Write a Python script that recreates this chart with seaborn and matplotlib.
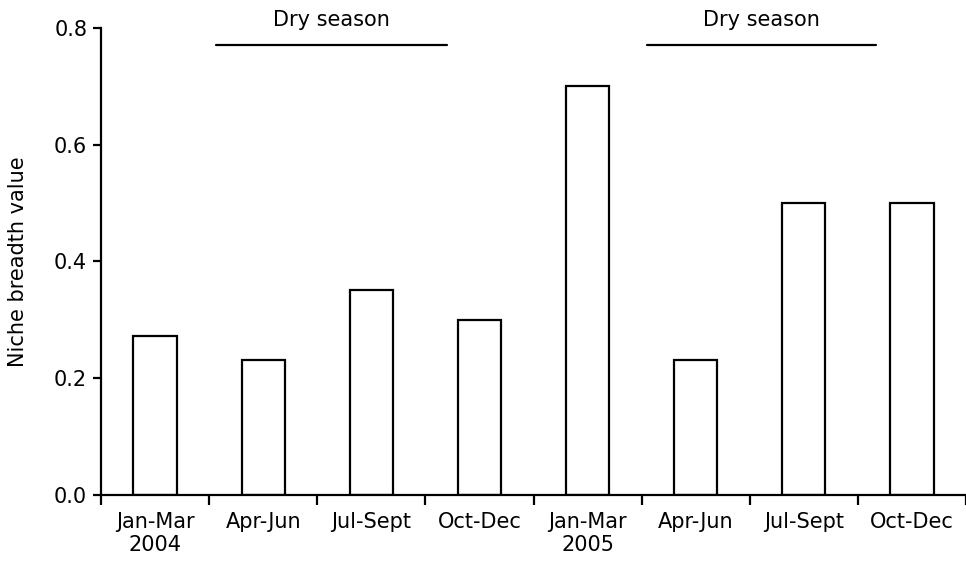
import numpy as np
import pandas as pd
import matplotlib
matplotlib.use("Agg")
import matplotlib.pyplot as plt
import seaborn as sns

# Quarterly niche breadth values, 2004-2005
quarters = ["Jan-Mar\n2004", "Apr-Jun", "Jul-Sept", "Oct-Dec",
            "Jan-Mar\n2005", "Apr-Jun", "Jul-Sept", "Oct-Dec"]
niche_breadth = [0.272, 0.231, 0.351, 0.300, 0.700, 0.231, 0.500, 0.500]
y_ticks = [0.0, 0.2, 0.4, 0.6, 0.8]
season_label = "Dry season"
# dry-season spans (category units) drawn above the bars
dry_spans = [(0.56, 2.70), (4.55, 6.67)]

sns.set_theme(style="ticks")
plt.rcParams["font.family"] = ["DejaVu Sans"]
plt.rcParams.update({"text.color": "black", "axes.labelcolor": "black",
                     "xtick.color": "black", "ytick.color": "black"})

df = pd.DataFrame({"idx": np.arange(len(quarters)), "value": niche_breadth})

fig = plt.figure(figsize=(9.66, 5.77), dpi=100)
ax = fig.add_axes([0.1046, 0.1421, 1.0 - 0.1046, 0.9515 - 0.1421])

sns.barplot(data=df, x="idx", y="value", ax=ax, width=0.4,
            color="white", edgecolor="black", linewidth=1.6, saturation=1)

ax.set_xlim(-0.5, len(quarters) - 0.5)
ax.set_ylim(0, 0.8)
ax.set_yticks(y_ticks)
ax.set_yticklabels([f"{v:.1f}" for v in y_ticks], fontsize=15)

# boundary ticks between quarters, labels centred on bars
ax.set_xticks(np.arange(len(quarters) + 1) - 0.5)
ax.set_xticklabels([])
ax.set_xticks(np.arange(len(quarters)), minor=True)
ax.set_xticklabels(quarters, minor=True, fontsize=15)
ax.tick_params(axis="x", which="minor", length=0, pad=12)
ax.tick_params(axis="x", which="major", length=7, width=1.6)
ax.tick_params(axis="y", length=6, width=1.6, pad=4)

ax.set_xlabel("")
ax.set_ylabel("Niche breadth value", fontsize=15)
ax.yaxis.set_label_coords(-0.084, 0.5)

for s in ["top", "right"]:
    ax.spines[s].set_visible(False)
for s in ["left", "bottom"]:
    ax.spines[s].set_linewidth(1.6)
    ax.spines[s].set_color("black")

for x0, x1 in dry_spans:
    ax.plot([x0, x1], [0.771, 0.771], color="black", lw=1.6, clip_on=False)
    ax.text((x0 + x1) / 2, 0.813, season_label, ha="center", va="center",
            fontsize=15, clip_on=False)

fig.savefig("out.png", dpi=100, facecolor="white")
